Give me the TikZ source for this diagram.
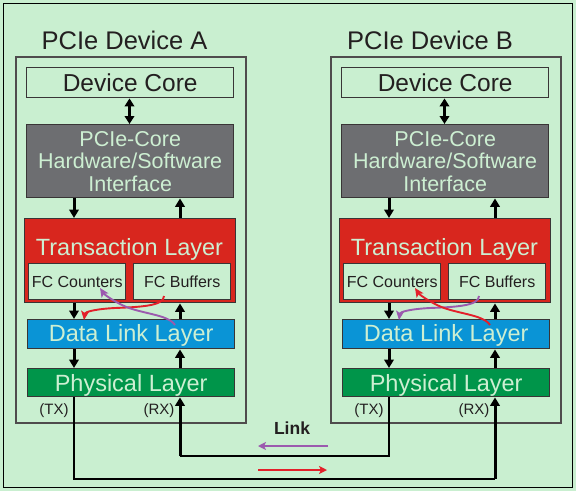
\documentclass[tikz,border=0pt]{standalone}
\usepackage{fontspec}
\setmainfont{Liberation Sans}
\usetikzlibrary{arrows.meta}
\definecolor{bg}{HTML}{C9EFD0}
\definecolor{lt}{HTML}{CDEFD2}
\definecolor{tlred}{HTML}{D8261E}
\definecolor{dllblue}{HTML}{0A94D6}
\definecolor{phygreen}{HTML}{00954A}
\definecolor{hwgray}{HTML}{6D6E71}
\definecolor{arred}{HTML}{E3202A}
\definecolor{arpur}{HTML}{9B5AAE}
\definecolor{ink}{HTML}{231F20}
\begin{document}
\begin{tikzpicture}[x=1pt,y=-1pt,
  box/.style={draw=ink!90, line width=1.4pt, anchor=north west, inner sep=0pt, align=center},
  devbox/.style={draw=ink!80, line width=1.5pt, anchor=north west, inner sep=0pt},
  lay/.style={text=lt, font=\fontsize{23.5}{25}\selectfont, text height=16.8pt, text depth=0pt, inner sep=0pt},
  fcbox/.style={box, fill=bg, text=ink, minimum height=36pt, font=\fontsize{16}{17}\selectfont, text height=11.5pt, text depth=0pt},
  blk/.style={draw=black, line width=3pt, -{Triangle[length=8.5pt,width=9.5pt]}},
  dbl/.style={draw=black, line width=3pt, {Triangle[length=8pt,width=9.5pt]}-{Triangle[length=8pt,width=9.5pt]}},
  curv/.style={line width=1.9pt, -{Stealth[length=9pt,width=8pt,inset=2pt]}},
  wire/.style={draw=black, line width=1.8pt},
  rxarrow/.style={draw=black, line width=3pt, -{Triangle[length=8.5pt,width=9.5pt]}},
  lnk/.style={line width=2pt, -{Stealth[length=8pt,width=8pt,inset=2pt]}},
  small/.style={text=ink, font=\fontsize{15}{16}\selectfont, inner sep=0pt}
]
\useasboundingbox (0,0) rectangle (576,491);
\fill[bg] (0,0) rectangle (576,491);
\draw[black, line width=1pt] (3,3) rectangle (572.5,487.5);

\foreach \d/\dx/\ca/\cb/\tx in {A/0/arred/arpur/124.5, B/315/arpur/arred/115}{
\begin{scope}[xshift=\dx pt]
  \coordinate (xl\d) at (74,0);
  \coordinate (xr\d) at (180,0);
  \coordinate (xm\d) at (129.5,0);
  \node[text=ink, font=\fontsize{25.5}{27}\selectfont, inner sep=0pt] (title\d) at (\tx,40) {PCIe Device \d};
  \node[devbox, minimum width=230pt, minimum height=366pt] (dev\d) at (15,56) {};
  \node[box, fill=bg, minimum width=207pt, minimum height=30pt] (core\d) at (26,67) {};
  \node[text=ink, font=\fontsize{24.5}{26}\selectfont, text height=17.5pt, text depth=0pt, inner sep=0pt] (coret\d) at ([yshift=-0.5pt]core\d.center) {Device Core};
  \node[box, fill=hwgray, text=lt, minimum width=207pt, minimum height=73pt, font=\fontsize{21.5}{22.5}\selectfont] (hw\d) at (26,124) {PCIe-Core\\Hardware/Software\\Interface};
  \node[box, fill=tlred, minimum width=211pt, minimum height=84pt] (tl\d) at (24,218) {};
  \node[lay] (tlt\d) at (129.5,247) {Transaction Layer};
  \node[fcbox, minimum width=97pt] (fcc\d) at (28,263) {FC Counters};
  \node[fcbox, minimum width=97pt] (fcb\d) at (133,263) {FC Buffers};
  \node[box, fill=dllblue, minimum width=207pt, minimum height=29pt] (dll\d) at (27,319) {};
  \node[lay] (dllt\d) at ([yshift=1pt]dll\d.center) {Data Link Layer};
  \node[box, fill=phygreen, minimum width=207pt, minimum height=28pt] (phy\d) at (27,368) {};
  \node[lay] (phyt\d) at (phy\d.center) {Physical Layer};
  \draw[dbl] (core\d.south -| xm\d) -- (hw\d.north -| xm\d);
  \draw[blk] (hw\d.south -| xl\d) -- (tl\d.north -| xl\d);
  \draw[blk] (tl\d.north -| xr\d) -- (hw\d.south -| xr\d);
  \draw[blk] (tl\d.south -| xl\d) -- (dll\d.north -| xl\d);
  \draw[blk] (dll\d.north -| xr\d) -- (tl\d.south -| xr\d);
  \draw[blk] (dll\d.south -| xl\d) -- (phy\d.north -| xl\d);
  \draw[blk] (phy\d.north -| xr\d) -- (dll\d.south -| xr\d);
  \draw[curv, draw=\ca] (164,296) .. controls (164,306) and (140,307) .. (115,308) .. controls (95,309) and (85,312) .. (84,320);
  \draw[curv, draw=\cb] (175,325) .. controls (168,314) and (140,314) .. (122,305) .. controls (110,299) and (104,294) .. (100,288);
  \node[small] (tx\d) at (54,411) {(TX)};
  \node[small] (rx\d) at (159,411) {(RX)};
\end{scope}}

\coordinate (j1) at (180,456);
\coordinate (j2) at (495,479);
\draw[wire] (phyB.south -| xlB) |- (j1);
\draw[rxarrow] (j1) -- (phyA.south -| xrA);
\draw[wire] (phyA.south -| xlA) |- (j2);
\draw[rxarrow] (j2) -- (phyB.south -| xrB);

\node[text=ink, font=\bfseries\fontsize{17.5}{19}\selectfont, inner sep=0pt] (link) at (292,428) {Link};
\coordinate (pa1) at (328,446);
\coordinate (pa2) at (258,446);
\coordinate (ra1) at (258,470);
\coordinate (ra2) at (327,470);
\draw[lnk, draw=arpur] (pa1) -- (pa2);
\draw[lnk, draw=arred] (ra1) -- (ra2);
\end{tikzpicture}
\end{document}
